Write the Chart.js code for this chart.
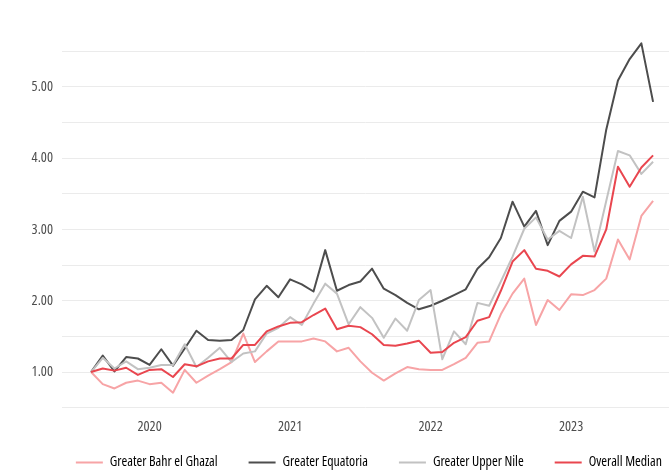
<!DOCTYPE html>
<html>
<head>
<meta charset="utf-8">
<script src="https://cdn.jsdelivr.net/npm/chart.js@4"></script>
<style>
  html, body { margin: 0; padding: 0; background: #fff; }
</style>
</head>
<body>
<canvas id="chart_id" width="669" height="471"></canvas>
<script>
// monthly index, Aug 2019 - Aug 2023
const months = [
  '2019-08', '2019-09', '2019-10', '2019-11', '2019-12',
  '2020-01', '2020-02', '2020-03', '2020-04', '2020-05', '2020-06', '2020-07', '2020-08', '2020-09', '2020-10', '2020-11', '2020-12',
  '2021-01', '2021-02', '2021-03', '2021-04', '2021-05', '2021-06', '2021-07', '2021-08', '2021-09', '2021-10', '2021-11', '2021-12',
  '2022-01', '2022-02', '2022-03', '2022-04', '2022-05', '2022-06', '2022-07', '2022-08', '2022-09', '2022-10', '2022-11', '2022-12',
  '2023-01', '2023-02', '2023-03', '2023-04', '2023-05', '2023-06', '2023-07', '2023-08'
];
const yearLabels = ['2020', '2021', '2022', '2023'];
const yTickValues = [0.5, 1, 1.5, 2, 2.5, 3, 3.5, 4, 4.5, 5, 5.5];

const bahrElGhazal = [
  1.00, 0.83, 0.77, 0.85, 0.88, 0.83, 0.85, 0.71, 1.03, 0.85, 0.95, 1.04, 1.14, 1.54, 1.14, 1.29, 1.43,
  1.43, 1.43, 1.47, 1.43, 1.29, 1.34, 1.15, 0.99, 0.88, 0.98, 1.07, 1.04, 1.03, 1.03, 1.11, 1.20,
  1.41, 1.43, 1.81, 2.10, 2.31, 1.66, 2.01, 1.87, 2.09, 2.08, 2.15, 2.31, 2.86, 2.58, 3.19, 3.40
];
const equatoria = [
  1.00, 1.23, 1.01, 1.21, 1.19, 1.10, 1.32, 1.09, 1.33, 1.58, 1.45, 1.44, 1.45, 1.59, 2.02, 2.21, 2.05,
  2.30, 2.23, 2.13, 2.71, 2.14, 2.22, 2.27, 2.45, 2.17, 2.08, 1.97, 1.88, 1.93, 2.00, 2.08, 2.16,
  2.45, 2.61, 2.88, 3.39, 3.04, 3.26, 2.78, 3.12, 3.25, 3.53, 3.45, 4.40, 5.09, 5.39, 5.61, 4.79
];
const upperNile = [
  1.00, 1.20, 1.05, 1.15, 1.04, 1.06, 1.10, 1.10, 1.39, 1.07, 1.20, 1.34, 1.14, 1.26, 1.29, 1.54, 1.62,
  1.77, 1.66, 1.96, 2.24, 2.10, 1.67, 1.91, 1.76, 1.48, 1.75, 1.58, 2.01, 2.15, 1.18, 1.57, 1.39,
  1.97, 1.93, 2.27, 2.62, 3.01, 3.17, 2.86, 2.98, 2.88, 3.46, 2.69, 3.40, 4.10, 4.04, 3.78, 3.95
];
const overallMedian = [
  1.00, 1.05, 1.02, 1.06, 0.96, 1.03, 1.04, 0.93, 1.11, 1.08, 1.15, 1.19, 1.19, 1.38, 1.38, 1.57, 1.64,
  1.69, 1.70, 1.80, 1.89, 1.60, 1.65, 1.63, 1.53, 1.38, 1.37, 1.40, 1.44, 1.27, 1.28, 1.41, 1.49,
  1.72, 1.77, 2.14, 2.55, 2.71, 2.45, 2.42, 2.34, 2.51, 2.63, 2.62, 3.00, 3.88, 3.60, 3.87, 4.04
];

const seriesNames = ['Greater Bahr el Ghazal', 'Greater Equatoria', 'Greater Upper Nile', 'Overall Median'];
const seriesColors = ['#f7a4a6', '#4d4d4d', '#c2c2c2', '#e9464f'];
const seriesValues = [bahrElGhazal, equatoria, upperNile, overallMedian];

// narrow look: Open Sans at its condensed width (weight slot carries the stretch keyword)
Chart.defaults.font.family = "'Open Sans', 'Liberation Sans', sans-serif";
Chart.defaults.font.weight = 'condensed';
Chart.defaults.font.size = 14.3;

// legend row sits closer to the x labels than Chart.js allows, nudge it after layout
const legendNudge = {
  id: 'legendNudge',
  afterLayout(chart) {
    const lg = chart.legend;
    lg.top -= 11.85;
    lg.bottom -= 11.85;
    lg.left += 34.4;
    lg.right += 34.4;
  }
};

const ctx = document.getElementById('chart_id');

const datasets = seriesValues.map((values, i) => ({
  label: seriesNames[i],
  data: values.map((v, j) => ({ x: j, y: v })),
  borderColor: seriesColors[i],
  backgroundColor: seriesColors[i],
  borderWidth: 2,
  pointRadius: 0,
  tension: 0,
  borderJoinStyle: 'round',
  order: seriesValues.length - i // median drawn on top
}));

new Chart(ctx, {
  type: 'line',
  data: { datasets: datasets },
  options: {
    responsive: false,
    animation: false,
    events: [],
    layout: { padding: { top: 27, right: 0, bottom: -20.3, left: 0 } },
    scales: {
      x: {
        type: 'linear',
        min: -2.48,
        max: 49.36,
        grid: { display: false, drawTicks: false },
        border: { display: false },
        afterBuildTicks: (scale) => {
          scale.ticks = yearLabels.map(y => ({ value: months.indexOf(y + '-01') }));
        },
        afterFit: (scale) => { scale.height = 27; },
        ticks: {
          autoSkip: false,
          maxRotation: 0,
          padding: 9,
          color: '#4d4d4d',
          callback: (value) => months[value].slice(0, 4)
        }
      },
      y: {
        min: 0.476,
        max: 5.84,
        grid: { color: '#ebebeb', lineWidth: 1, drawTicks: false },
        border: { display: false },
        afterBuildTicks: (scale) => {
          scale.ticks = yTickValues.map(v => ({ value: v }));
        },
        afterFit: (scale) => { scale.width = 62; },
        ticks: {
          padding: 9,
          color: '#4d4d4d',
          callback: (value) => Number.isInteger(value) ? value.toFixed(2) : ''
        }
      }
    },
    plugins: {
      tooltip: { enabled: false },
      legend: {
        position: 'bottom',
        labels: {
          boxWidth: 27,
          boxHeight: 2,
          padding: 31,
          color: '#333333',
          font: { size: 13.9 },
          generateLabels: (chart) => chart.data.datasets.map((ds, i) => ({
            text: ds.label,
            fillStyle: ds.borderColor,
            strokeStyle: ds.borderColor,
            lineWidth: 0,
            hidden: false,
            datasetIndex: i
          }))
        }
      }
    }
  },
  plugins: [legendNudge]
});
</script>
</body>
</html>
